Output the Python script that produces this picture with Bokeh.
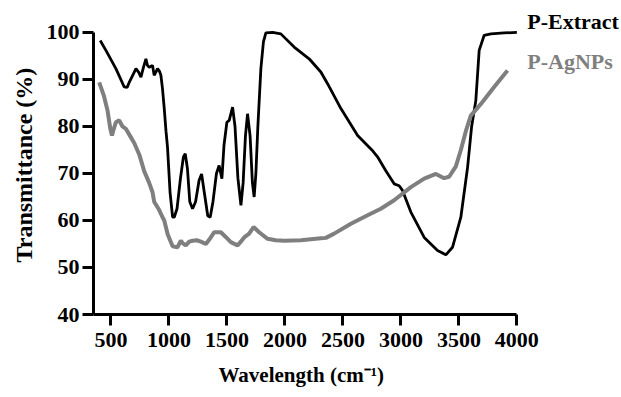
from bokeh.plotting import figure
from bokeh.models import Range1d, Label, FixedTicker, Title
from bokeh.embed import file_html
from bokeh.resources import INLINE

# P-Extract spectrum (wavenumber, transmittance %)
extract_x = [408, 457, 543, 615, 640, 658, 690, 716, 740, 759, 780, 802, 815, 830, 859, 873,
             887, 902, 918, 931, 945, 960, 975, 988, 1010, 1032, 1046, 1070, 1100, 1125, 1141,
             1160, 1180, 1204, 1230, 1260, 1282, 1305, 1335, 1356, 1380, 1410, 1433, 1457,
             1475, 1500, 1520, 1549, 1570, 1595, 1621, 1640, 1660, 1678, 1700, 1720, 1735,
             1750, 1767, 1793, 1815, 1836, 1894, 1965, 2080, 2209, 2310, 2368, 2483, 2627,
             2750, 2800, 2870, 2942, 2985, 3014, 3086, 3201, 3316, 3388, 3445, 3517, 3575,
             3610, 3646, 3675, 3718, 3776, 3890, 4000]
extract_y = [98.3, 96.2, 92.3, 88.4, 88.3, 89.4, 91.0, 92.3, 91.5, 90.5, 92.5, 94.4, 93.0, 92.6,
             93.0, 90.9, 91.5, 92.3, 91.8, 90.9, 88.0, 83.8, 79.0, 75.6, 66.0, 60.7, 60.7, 62.5,
             69.0, 73.5, 74.2, 71.0, 64.0, 62.5, 64.0, 68.5, 69.9, 66.0, 61.0, 60.7, 64.0, 70.0,
             71.7, 68.9, 76.0, 80.9, 81.3, 84.1, 80.0, 69.0, 63.2, 68.0, 78.0, 82.7, 78.0, 68.0,
             65.0, 70.0, 80.0, 92.3, 98.0, 99.9, 100.0, 99.7, 96.9, 94.4, 91.6, 89.1, 83.8, 78.1,
             75.0, 73.5, 70.6, 67.8, 67.4, 66.4, 61.8, 56.4, 53.6, 52.7, 54.3, 60.7, 71.3,
             80.0, 85.5, 96.2, 99.4, 99.7, 99.9, 100.0]

# P-AgNPs spectrum
agnps_x = [399, 440, 471, 495, 509, 525, 543, 572, 600, 629, 665, 701, 745, 787, 830, 859, 873,
           910, 945, 960, 990, 1032, 1074, 1103, 1118, 1146, 1175, 1204, 1240, 1276, 1319, 1350,
           1391, 1448, 1490, 1534, 1592, 1620, 1649, 1692, 1730, 1778, 1851, 1920, 1994, 2138,
           2310, 2353, 2425, 2569, 2713, 2827, 2942, 3086, 3201, 3302, 3373, 3416, 3474, 3517,
           3560, 3603, 3690, 3804, 3919]
agnps_y = [89.4, 86.5, 83.4, 79.5, 78.1, 79.5, 80.9, 81.3, 80.0, 79.5, 78.0, 76.5, 74.0, 70.5,
           68.0, 66.0, 64.0, 62.5, 60.7, 60.0, 57.0, 54.5, 54.3, 55.7, 55.2, 54.7, 55.5, 55.7,
           55.8, 55.5, 55.0, 56.0, 57.5, 57.5, 56.5, 55.4, 54.7, 55.5, 56.4, 57.2, 58.6, 57.5,
           56.1, 55.8, 55.7, 55.8, 56.2, 56.3, 57.2, 59.3, 61.1, 62.5, 64.3, 67.1, 68.9, 69.9,
           69.0, 69.3, 71.5, 75.0, 79.0, 82.3, 84.8, 88.4, 91.9]

x_ticks = [500, 1000, 1500, 2000, 2500, 3000, 3500, 4000]
y_ticks = [40, 50, 60, 70, 80, 90, 100]
series_names = ["P-Extract", "P-AgNPs"]
x_title = "Wavelength (cm\u207b\u00b9)"
y_title = "Transmittance (%)"

FONT = "Liberation Serif"
BLACK = "#000000"
GRAY = "#7f7f7f"

# frame spans past the axes so the series names fit; the axis lines are bounded
p = figure(width=621, height=397, output_backend="svg", toolbar_location=None,
           x_range=Range1d(350, 4902), y_range=Range1d(40, 106.8))
p.min_border_left = 93
p.min_border_right = 0
p.min_border_top = 0
p.min_border_bottom = 83
p.outline_line_color = None
p.xgrid.visible = False
p.ygrid.visible = False
p.background_fill_color = "white"
p.border_fill_color = "white"

p.line(extract_x, extract_y, line_color=BLACK, line_width=2.8)
p.line(agnps_x, agnps_y, line_color=GRAY, line_width=4)

for ax, ticks in ((p.xaxis[0], x_ticks), (p.yaxis[0], y_ticks)):
    ax.ticker = FixedTicker(ticks=ticks)
    ax.axis_line_width = 3
    ax.axis_line_color = BLACK
    ax.major_tick_line_width = 3
    ax.major_tick_line_color = BLACK
    ax.major_tick_out = 11
    ax.major_tick_in = 0
    ax.minor_tick_line_color = None
    ax.major_label_text_font = FONT
    ax.major_label_text_font_style = "bold"
    ax.major_label_text_font_size = "22px"
    ax.major_label_text_color = BLACK

p.xaxis[0].bounds = (350, 4000)
p.yaxis[0].bounds = (40, 100)
p.xaxis[0].major_label_standoff = 7
p.yaxis[0].major_label_standoff = 3

# axis titles as side titles so they can be placed along the bounded axes
p.add_layout(Title(text=x_title, align="left", offset=125, text_font=FONT,
                   text_font_style="bold", text_font_size="21px", text_color=BLACK,
                   standoff=22), "below")
p.add_layout(Title(text=y_title, align="left", offset=52, text_font=FONT,
                   text_font_style="bold", text_font_size="24px", text_color=BLACK,
                   standoff=13), "left")

p.add_layout(Label(x=4090, y=102.3, text=series_names[0], text_font=FONT,
                   text_font_style="bold", text_font_size="22px", text_color=BLACK,
                   text_baseline="middle", text_align="left"))
p.add_layout(Label(x=4090, y=93.8, text=series_names[1], text_font=FONT,
                   text_font_style="bold", text_font_size="22px", text_color=GRAY,
                   text_baseline="middle", text_align="left"))

open("out.html", "w").write(file_html(p, INLINE))
